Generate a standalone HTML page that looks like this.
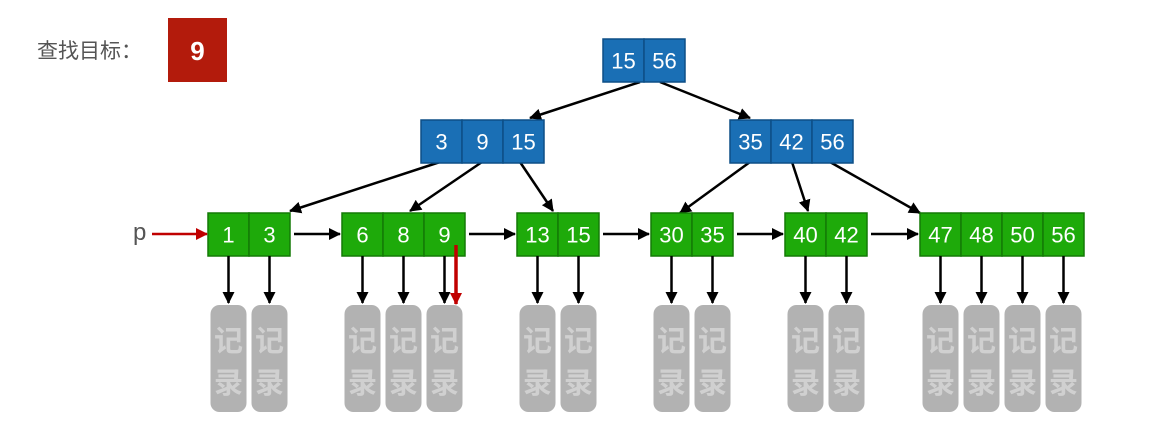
<!DOCTYPE html>
<html><head><meta charset="utf-8"><style>
body{margin:0;background:#fff;}
svg{display:block;font-family:"Liberation Sans","Noto Sans CJK SC",sans-serif;}
</style></head><body>
<svg width="1161" height="447" viewBox="0 0 1161 447">
<defs>
<marker id="ah" markerWidth="8" markerHeight="8" refX="7" refY="4" orient="auto" markerUnits="userSpaceOnUse" viewBox="0 0 8 8"><path d="M0,0 L8,4 L0,8 z" fill="#000"/></marker>
<marker id="ahb" markerWidth="12" markerHeight="12" refX="11" refY="6" orient="auto" markerUnits="userSpaceOnUse" viewBox="0 0 12 12"><path d="M0,0 L12,6 L0,12 z" fill="#000"/></marker>
<marker id="ahr" markerWidth="12" markerHeight="12" refX="11" refY="6" orient="auto" markerUnits="userSpaceOnUse" viewBox="0 0 12 12"><path d="M0,0 L12,6 L0,12 z" fill="#c00000"/></marker>
</defs>
<text x="37" y="58" font-size="21" fill="#555">查找目标：</text>
<rect x="168" y="18" width="59" height="64" fill="#b31b0c"/>
<text x="197.5" y="60" font-size="26" font-weight="bold" fill="#fff" text-anchor="middle">9</text>
<g id="g"></g>
<text x="133" y="240" font-size="24" fill="#555">p</text>
<line x1="152" y1="234" x2="207" y2="234" stroke="#c00000" stroke-width="2.5" marker-end="url(#ahr)"/>
<line x1="456" y1="245" x2="456" y2="304" stroke="#c00000" stroke-width="3.5" marker-end="url(#ahr)"/>
</svg>
<script>
const NS="http://www.w3.org/2000/svg";
const g=document.getElementById('g');
function el(t,a){const e=document.createElementNS(NS,t);for(const k in a)e.setAttribute(k,a[k]);g.appendChild(e);return e;}
const W=41,H=43;
const internals=[{x:603,y:39,k:[15,56]},{x:421,y:120,k:[3,9,15]},{x:730,y:120,k:[35,42,56]}];
const leaves=[{x:208,k:[1,3]},{x:342,k:[6,8,9]},{x:517,k:[13,15]},{x:651,k:[30,35]},{x:785,k:[40,42]},{x:920,k:[47,48,50,56]}];
const LY=213;
function line(x1,y1,x2,y2,name,big){const l=el('line',{x1,y1,x2,y2,stroke:'#000','stroke-width':2.5,'marker-end':big?'url(#ahb)':'url(#ah)'});

}
line(640,82,530,118,'edge-root-left',1);
line(660,82,750,118,'edge-root-right',1);
line(440,162,290,211,'edge-3-leaf1',1);
line(482,162,410,211,'edge-9-leaf2',1);
line(520,162,553,211,'edge-15-leaf3',1);
line(750,162,680,213,'edge-35-leaf4',1);
line(792,162,808,211,'edge-42-leaf5',1);
line(830,162,920,213,'edge-56-leaf6',1);
for(let i=0;i<leaves.length-1;i++){const a=leaves[i],b=leaves[i+1];
line(a.x+a.k.length*W+4,LY+21,b.x-2,LY+21,'leaf-link-'+i,1);}
function node(x,y,keys,fill,stroke,name){
keys.forEach((k,i)=>{const r=el('rect',{x:x+i*W,y,width:W,height:H,fill,stroke,'stroke-width':1.5});


const t=el('text',{x:x+i*W+W/2,y:y+H/2+8,'font-size':22,fill:'#fff','text-anchor':'middle'});t.textContent=k;

});}
internals.forEach((n,i)=>node(n.x,n.y,n.k,'#1a6fb5','#0d4f86','internal-node-'+i));
leaves.forEach((n,i)=>{node(n.x,LY,n.k,'#1eaa0a','#137a06','leaf-node-'+i);
n.k.forEach((k,j)=>{const cx=n.x+j*W+W/2;
line(cx,LY+H,cx,303,'record-pointer',1);
const r=el('rect',{x:cx-18,y:305,width:36,height:107,rx:9,fill:'#b2b2b2'});


['记','录'].forEach((c,m)=>{const t=el('text',{x:cx,y:351+m*42,'font-size':29,'font-weight':'bold',fill:'#d0d0d0','text-anchor':'middle'});t.textContent=c;

});});});
</script>
</body></html>
